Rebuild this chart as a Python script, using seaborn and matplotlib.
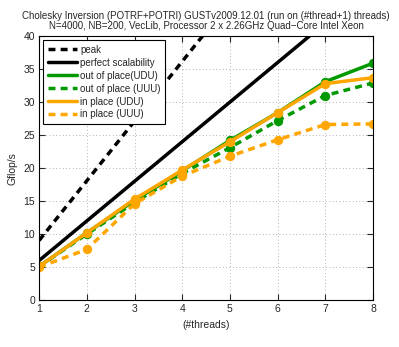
import numpy as np
import pandas as pd
import matplotlib
matplotlib.use("Agg")
import matplotlib.pyplot as plt
from matplotlib.lines import Line2D
import seaborn as sns

# data
threads = [1, 2, 3, 4, 5, 6, 7, 8]
peak = [9.04, 18.08, 27.12, 36.16, 45.2, 54.24, 63.28, 72.32]
perfect = [6.0, 12.0, 18.0, 24.0, 30.0, 36.0, 42.0, 48.0]
out_udu = [5.1, 10.2, 15.1, 19.6, 24.2, 28.4, 33.1, 35.9]
out_uuu = [5.1, 10.0, 14.8, 19.2, 23.1, 27.2, 31.0, 32.9]
in_udu = [5.1, 10.2, 15.3, 19.7, 24.0, 28.4, 32.8, 33.7]
in_uuu = [5.0, 7.7, 14.6, 18.8, 21.8, 24.3, 26.6, 26.7]

sns.set_style("ticks")
plt.rcParams["font.family"] = ["Liberation Sans", "DejaVu Sans"]

green = (0.0, 0.6, 0.0)
orange = (1.0, 0.65, 0.0)
dash = (0, (2, 1.5))

fig = plt.figure(figsize=(3.99, 3.47), dpi=100)
ax = fig.add_axes([0.098, 0.135, 0.837, 0.761])

df = pd.DataFrame({"threads": threads, "peak": peak, "perfect": perfect,
                   "out_udu": out_udu, "out_uuu": out_uuu,
                   "in_udu": in_udu, "in_uuu": in_uuu})

series = [
    ("peak", "black", dash, None, "peak"),
    ("perfect", "black", "-", None, "perfect scalability"),
    ("out_udu", green, "-", "o", "out of place(UDU)"),
    ("out_uuu", green, dash, "o", "out of place (UUU)"),
    ("in_udu", orange, "-", "o", "in place (UDU)"),
    ("in_uuu", orange, dash, "o", "in place (UUU)"),
]

handles = []
for col, c, ls, mk, lab in series:
    kw = {}
    if mk:
        kw = dict(marker=mk, markersize=6, markeredgecolor=c)
    sns.lineplot(data=df, x="threads", y=col, ax=ax, color=c, lw=2.5,
                 linestyle=ls, legend=False, **kw)
    handles.append(Line2D([], [], color=c, lw=2.5, linestyle=ls, label=lab))

ax.set_xlim(1, 8)
ax.set_ylim(0, 40)
ax.set_xticks(threads)
ax.set_yticks(np.arange(0, 41, 5))
ax.tick_params(direction="in", labelsize=7.5, length=4, top=True, right=True,
               pad=3)
ax.grid(True, linestyle=(0, (1, 3)), color="#999999", lw=0.6)
for s in ax.spines.values():
    s.set_linewidth(0.8)
    s.set_color("black")

ax.set_xlabel("(#threads)", fontsize=7.5, labelpad=4)
ax.set_ylabel("Gflop/s", fontsize=7.5, labelpad=4)
ax.set_title("Cholesky Inversion (POTRF+POTRI) GUSTv2009.12.01 (run on (#thread+1) threads)\n"
             "N=4000, NB=200, VecLib, Processor 2 x 2.26GHz Quad\u2212Core Intel Xeon",
             fontsize=7.0, pad=5, linespacing=1.05)

leg = ax.legend(handles=handles, loc="upper left", fontsize=7.0, frameon=True,
                fancybox=False, edgecolor="black", framealpha=1,
                handlelength=3.0, borderpad=0.45, labelspacing=0.3,
                handletextpad=0.3, borderaxespad=0.45)
leg.get_frame().set_linewidth(0.8)

fig.savefig("out.png", dpi=100)
